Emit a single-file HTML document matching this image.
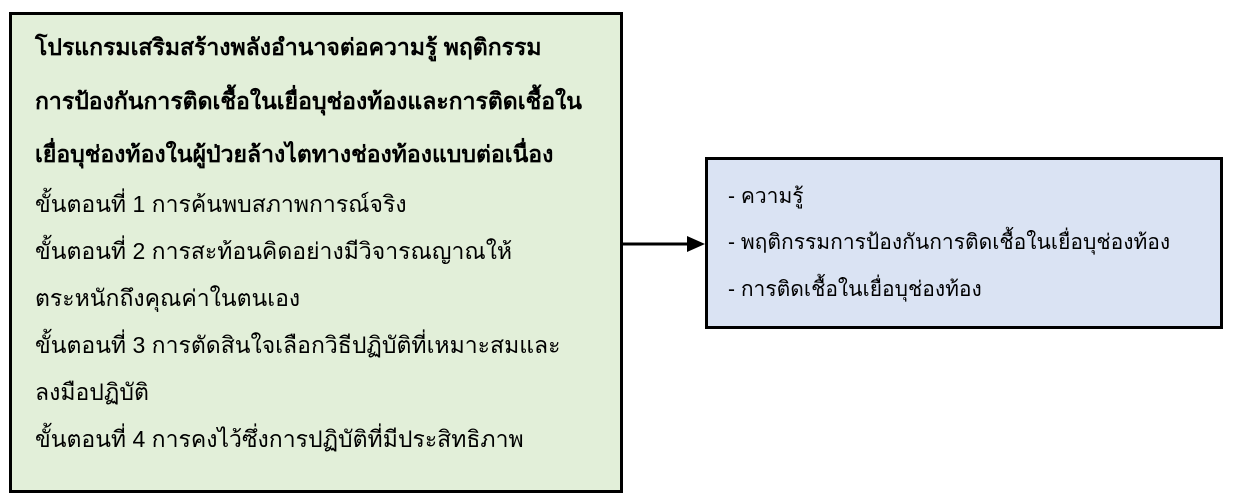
<!DOCTYPE html>
<html><head><meta charset="utf-8"><style>
html,body{margin:0;padding:0;background:#fff;width:1237px;height:504px;overflow:hidden}
body{position:relative;font-family:"Liberation Sans","DejaVu Sans",sans-serif;color:#000}
.box{position:absolute;box-sizing:border-box;border:3px solid #000}
.l{left:9px;top:12px;width:614px;height:481px;background:#e2efd9}
.r{left:705px;top:157px;width:518px;height:172px;background:#dae3f3}
.line{position:absolute;white-space:nowrap;font-size:23px;line-height:30px}
.b{font-weight:bold}
.rl{font-size:21px}
</style></head><body>
<div class="box l"></div>
<div class="box r"></div>
<div class="line b" style="left:35px;top:32px">โปรแกรมเสริมสร้างพลังอำนาจต่อความรู้ พฤติกรรม</div>
<div class="line b" style="left:35px;top:86px">การป้องกันการติดเชื้อในเยื่อบุช่องท้องและการติดเชื้อใน</div>
<div class="line b" style="left:35px;top:139px">เยื่อบุช่องท้องในผู้ป่วยล้างไตทางช่องท้องแบบต่อเนื่อง</div>
<div class="line" style="left:35px;top:189px">ขั้นตอนที่ 1 การค้นพบสภาพการณ์จริง</div>
<div class="line" style="left:35px;top:236px">ขั้นตอนที่ 2 การสะท้อนคิดอย่างมีวิจารณญาณให้</div>
<div class="line" style="left:35px;top:283px">ตระหนักถึงคุณค่าในตนเอง</div>
<div class="line" style="left:35px;top:330px">ขั้นตอนที่ 3 การตัดสินใจเลือกวิธีปฏิบัติที่เหมาะสมและ</div>
<div class="line" style="left:35px;top:377px">ลงมือปฏิบัติ</div>
<div class="line" style="left:35px;top:424px">ขั้นตอนที่ 4 การคงไว้ซึ่งการปฏิบัติที่มีประสิทธิภาพ</div>
<div class="line rl" style="left:728px;top:182px">- ความรู้</div>
<div class="line rl" style="left:728px;top:228px">- พฤติกรรมการป้องกันการติดเชื้อในเยื่อบุช่องท้อง</div>
<div class="line rl" style="left:728px;top:275px">- การติดเชื้อในเยื่อบุช่องท้อง</div>
<svg style="position:absolute;left:0;top:0" width="1237" height="504">
<line x1="623" y1="244" x2="690" y2="244" stroke="#000" stroke-width="3"/>
<polygon points="687,236 705,244 687,252" fill="#000"/>
</svg>
</body></html>
